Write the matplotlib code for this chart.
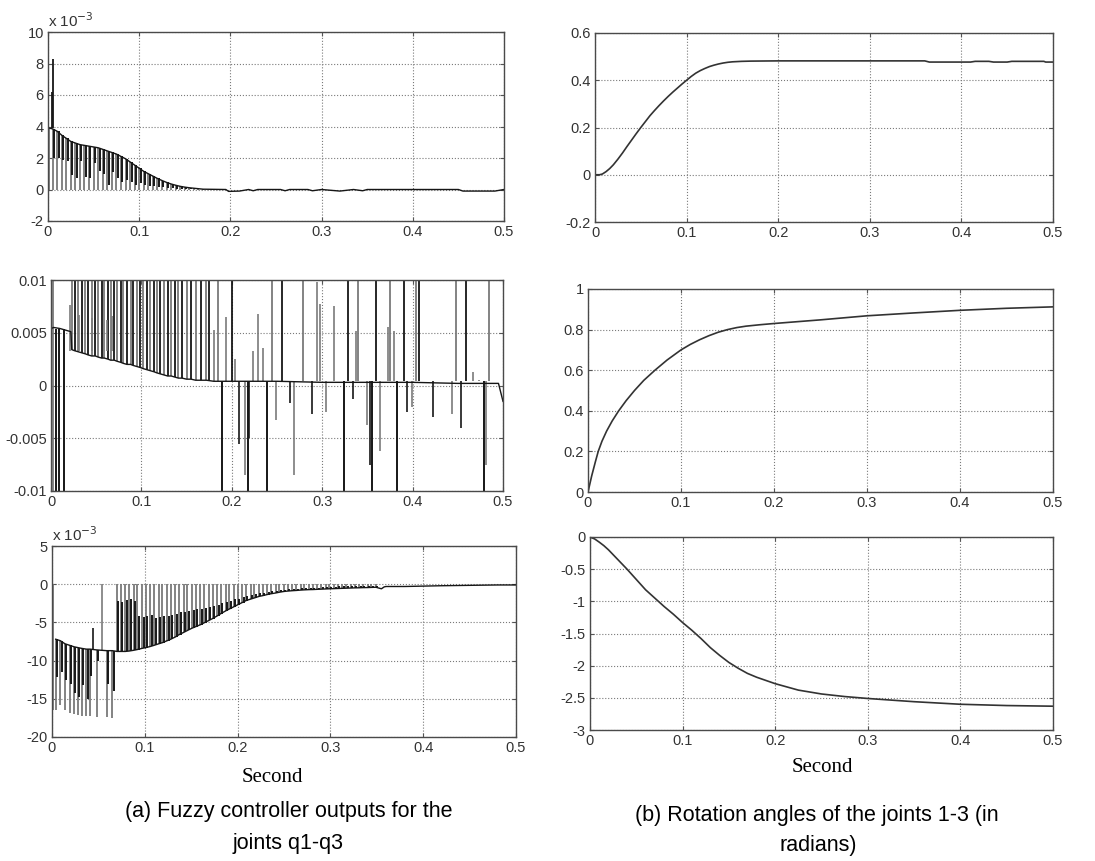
import numpy as np
import matplotlib
matplotlib.use('Agg')
import matplotlib.pyplot as plt
from matplotlib.ticker import FuncFormatter

plt.rcParams['font.family'] = ['Liberation Sans', 'DejaVu Sans']

# ---- (a) top : fuzzy output q1, units of 1e-3 ----
a1_t = [0.001, 0.005, 0.010, 0.015, 0.020, 0.025, 0.030, 0.035, 0.040, 0.045, 0.050, 0.055,
        0.060, 0.065, 0.070, 0.075, 0.080, 0.085, 0.090, 0.095, 0.100, 0.105, 0.110, 0.115,
        0.120, 0.125, 0.130, 0.135, 0.140, 0.145, 0.150, 0.155, 0.160, 0.165, 0.170]
a1_env = [3.9, 3.85, 3.7, 3.45, 3.25, 3.05, 2.95, 2.85, 2.8, 2.75, 2.7, 2.65,
          2.55, 2.45, 2.35, 2.25, 2.1, 1.95, 1.75, 1.55, 1.35, 1.15, 1.0, 0.85,
          0.7, 0.57, 0.45, 0.35, 0.27, 0.2, 0.15, 0.11, 0.08, 0.05, 0.02]
a1_dark = [3.9, 2.0, 2.0, 1.9, 1.8, 0.9, 0.75, 1.8, 0.8, 0.75, 1.7, 1.2,
           1.0, 0.3, 1.1, 0.7, 0.5, 0.6, 0.5, 0.3, 0.4, 0.3, 0.25, 0.2,
           0.15, 0.15, 0.1, 0.1, 0.05, 0.05, 0.03, 0.02, 0.02, 0.01, 0.02]
a1_peak_t = [0.004, 0.005]
a1_peak_v = [6.2, 8.3]
a1_late_t = [0.170, 0.195, 0.198, 0.21, 0.22, 0.225, 0.23, 0.255, 0.26, 0.265, 0.285, 0.29,
             0.3, 0.31, 0.32, 0.335, 0.345, 0.35, 0.36, 0.45, 0.455, 0.49, 0.5]
a1_late_v = [0.02, 0.0, -0.12, -0.1, 0.0, -0.08, 0.0, 0.0, -0.08, 0.0, 0.0, -0.08,
             0.0, -0.05, -0.1, 0.0, -0.08, 0.0, 0.0, 0.0, -0.1, -0.1, 0.0]

# ---- (a) middle : fuzzy output q2 ----
a2_start_t = [0.0, 0.003, 0.010, 0.018, 0.022]
a2_start_v = [0.0054, 0.0055, 0.0054, 0.0052, 0.0051]
a2_first_dn = [0.005, 0.009, 0.014]
a2_up_t = [0.023, 0.026, 0.030, 0.034, 0.038, 0.041, 0.045, 0.049, 0.052, 0.056, 0.059, 0.063,
           0.066, 0.070, 0.073, 0.077, 0.080, 0.084, 0.088, 0.091, 0.095, 0.099, 0.102, 0.106,
           0.110, 0.114, 0.117, 0.121, 0.125, 0.129, 0.133, 0.137, 0.141, 0.145, 0.150, 0.155,
           0.160, 0.166, 0.172]
a2_up_base = [0.0034, 0.0033, 0.0032, 0.0031, 0.0030, 0.0029, 0.0028, 0.0028, 0.0027, 0.0026,
              0.0026, 0.0025, 0.0024, 0.0024, 0.0023, 0.0022, 0.0021, 0.0020, 0.0020, 0.0019,
              0.0018, 0.0017, 0.0016, 0.0015, 0.0014, 0.0013, 0.0012, 0.0011, 0.0010, 0.0009,
              0.0009, 0.0008, 0.0007, 0.0007, 0.0006, 0.0006, 0.0005, 0.0005, 0.0005]
a2_early_part_t = [0.021, 0.031, 0.045, 0.062, 0.067]
a2_early_part_top = [0.0076, 0.0067, 0.0064, 0.0062, 0.0066]
a2_late_t = [0.18, 0.25, 0.3, 0.35, 0.4, 0.45, 0.495, 0.5]
a2_late_v = [0.0004, 0.0004, 0.0003, 0.0003, 0.0003, 0.0002, 0.0002, -0.0015]
a2_late_base = 0.0004
a2_full_up = [0.175, 0.185, 0.200, 0.244, 0.255, 0.279, 0.329, 0.340, 0.359, 0.375, 0.390,
              0.404, 0.407, 0.448, 0.459, 0.485]
a2_full_dn = [0.189, 0.218, 0.239, 0.324, 0.355, 0.383, 0.479]
a2_part_up_t = [0.180, 0.194, 0.204, 0.224, 0.229, 0.235, 0.294, 0.298, 0.313, 0.337, 0.373,
                0.379, 0.467, 0.474]
a2_part_up_v = [0.0053, 0.0065, 0.0025, 0.0033, 0.0068, 0.0036, 0.0098, 0.0077, 0.0075, 0.0052,
                0.0055, 0.0052, 0.0013, 0.0005]
a2_part_dn_t = [0.208, 0.215, 0.219, 0.249, 0.264, 0.269, 0.289, 0.304, 0.334, 0.350, 0.353,
                0.364, 0.394, 0.399, 0.423, 0.444, 0.454, 0.481]
a2_part_dn_v = [-0.0055, -0.0085, -0.005, -0.0033, -0.0017, -0.0085, -0.0027, -0.0025, -0.0013,
                -0.0037, -0.0075, -0.0062, -0.0025, -0.002, -0.003, -0.0027, -0.004, -0.0075]

# ---- (a) bottom : fuzzy output q3, units of 1e-3 ----
a3_dn_t = [0.004, 0.009, 0.014, 0.019, 0.024, 0.028, 0.032, 0.037, 0.041, 0.048, 0.059, 0.065]
a3_dn_top = [-7.2, -7.4, -7.8, -8.0, -8.2, -8.3, -8.4, -8.5, -8.5, -8.6, -8.7, -8.7]
a3_dn_gray = [-16.5, -15.8, -16.5, -16.8, -17.0, -17.1, -17.2, -17.3, -17.3, -17.4, -17.4, -17.5]
a3_dn_dark = [-12.2, -11.5, -12.5, -13.0, -14.3, -14.8, -13.2, -15.0, -12.0, -10.0, -13.0, -14.0]
a3_blip_t = [0.044, 0.054]
a3_blip_base = [-8.5, -8.6]
a3_blip_top = [-5.7, 0.0]
a3_up_t = [0.070, 0.074, 0.079, 0.083, 0.088, 0.092, 0.097, 0.101, 0.106, 0.110, 0.115, 0.119,
           0.124, 0.128, 0.133, 0.137, 0.142, 0.146, 0.151, 0.155, 0.160, 0.164, 0.169, 0.173,
           0.178, 0.182, 0.187, 0.191, 0.196, 0.200, 0.205, 0.209, 0.214, 0.218, 0.223, 0.227,
           0.232, 0.236, 0.241, 0.245, 0.250, 0.254, 0.259, 0.263, 0.268, 0.272, 0.277, 0.281,
           0.286, 0.290, 0.295, 0.299, 0.304, 0.308, 0.313, 0.317, 0.322, 0.326, 0.331, 0.335,
           0.340, 0.344, 0.349]
a3_up_base = [-8.8, -8.8, -8.8, -8.75, -8.65, -8.55, -8.4, -8.3, -8.15, -8.0, -7.8, -7.65,
              -7.4, -7.2, -6.9, -6.6, -6.3, -6.05, -5.75, -5.55, -5.3, -5.05, -4.75, -4.5,
              -4.15, -3.85, -3.5, -3.25, -2.95, -2.7, -2.4, -2.15, -1.95, -1.8, -1.6, -1.5,
              -1.35, -1.25, -1.15, -1.05, -0.95, -0.9, -0.85, -0.82, -0.77, -0.74, -0.71, -0.7,
              -0.67, -0.65, -0.62, -0.6, -0.58, -0.56, -0.54, -0.52, -0.5, -0.48, -0.47, -0.45,
              -0.44, -0.42, -0.4]
a3_up_dark = [-2.2, -2.3, -2.1, -2.0, -2.2,
              -4.1, -4.3, -4.2, -4.0, -4.4, -4.3, -4.1, -4.2, -4.0,
              -3.9, -3.7, -3.6, -3.5, -3.4, -3.3, -3.2, -3.1, -3.0, -2.8,
              -2.7, -2.5, -2.3, -2.2, -2.0, -1.9, -1.7, -1.5, -1.4, -1.3,
              -1.2, -1.1, -1.0, -0.9, -0.85, -0.8, -0.7, -0.65, -0.6, -0.6,
              -0.55, -0.5, -0.5, -0.45, -0.45, -0.4, -0.4, -0.35, -0.35, -0.3,
              -0.3, -0.3, -0.25, -0.25, -0.25, -0.2, -0.2, -0.2, -0.2]
a3_late_t = [0.349, 0.355, 0.358, 0.36, 0.38, 0.40, 0.42, 0.45, 0.48, 0.5]
a3_late_v = [-0.4, -0.6, -0.35, -0.3, -0.3, -0.25, -0.2, -0.15, -0.1, -0.1]

# ---- (b) rotation angles ----
b1_t = [0.0, 0.005, 0.008, 0.012, 0.016, 0.02, 0.025, 0.03, 0.035, 0.04, 0.045, 0.05, 0.055,
        0.06, 0.065, 0.07, 0.075, 0.08, 0.085, 0.09, 0.095, 0.1, 0.105, 0.11, 0.115, 0.12,
        0.125, 0.13, 0.135, 0.14, 0.145, 0.15, 0.16, 0.17, 0.2, 0.36, 0.365, 0.41, 0.415,
        0.43, 0.435, 0.45, 0.455, 0.49, 0.492, 0.5]
b1_v = [0.0, 0.0, 0.003, 0.013, 0.026, 0.042, 0.066, 0.092, 0.12, 0.147, 0.174, 0.2, 0.225,
        0.25, 0.272, 0.293, 0.313, 0.332, 0.35, 0.367, 0.384, 0.40, 0.416, 0.43, 0.441, 0.45,
        0.458, 0.464, 0.469, 0.473, 0.476, 0.478, 0.48, 0.481, 0.482, 0.482, 0.477, 0.477, 0.48,
        0.48, 0.477, 0.477, 0.48, 0.48, 0.477, 0.477]
b2_t = [0.0, 0.002, 0.004, 0.006, 0.008, 0.011, 0.015, 0.02, 0.026, 0.033, 0.041, 0.05, 0.06,
        0.072, 0.085, 0.1, 0.11, 0.12, 0.13, 0.14, 0.15, 0.16, 0.17, 0.185, 0.2,
        0.25, 0.3, 0.35, 0.4, 0.45, 0.5]
b2_v = [0.0, 0.04, 0.08, 0.115, 0.15, 0.2, 0.25, 0.3, 0.35, 0.4, 0.45, 0.5, 0.55,
        0.6, 0.65, 0.7, 0.727, 0.75, 0.77, 0.787, 0.8, 0.81, 0.817, 0.824, 0.83,
        0.848, 0.868, 0.882, 0.895, 0.905, 0.912]
b3_t = [0.0, 0.005, 0.01, 0.015, 0.02, 0.03, 0.04, 0.05, 0.06, 0.07, 0.08, 0.09, 0.1, 0.11,
        0.12, 0.13, 0.14, 0.15, 0.16, 0.17, 0.18, 0.19, 0.2, 0.21, 0.225, 0.25, 0.275, 0.3,
        0.35, 0.4, 0.45, 0.5]
b3_v = [0.0, -0.03, -0.08, -0.135, -0.2, -0.35, -0.5, -0.66, -0.82, -0.95, -1.08, -1.2, -1.33,
        -1.45, -1.58, -1.72, -1.84, -1.95, -2.04, -2.12, -2.18, -2.23, -2.28, -2.32, -2.38,
        -2.44, -2.48, -2.51, -2.56, -2.6, -2.62, -2.63]

GRAY = '#7a7a7a'
DARK = '#161616'
CURVE = '#333333'
W, H = 1095, 861

fig = plt.figure(figsize=(W / 100, H / 100), dpi=100)


def make_ax(l, r, t, b):
    return fig.add_axes([l / W, (H - b) / H, (r - l) / W, (b - t) / H])


def style(ax, ylim, yticks):
    ax.set_xlim(0, 0.5)
    ax.set_ylim(*ylim)
    ax.set_xticks([0, 0.1, 0.2, 0.3, 0.4, 0.5])
    ax.set_yticks(yticks)
    fmt = FuncFormatter(lambda v, p: '%g' % round(v, 6))
    ax.xaxis.set_major_formatter(fmt)
    ax.yaxis.set_major_formatter(fmt)
    ax.grid(True, ls=':', color='#7a7a7a', lw=0.8)
    ax.set_axisbelow(True)
    ax.tick_params(direction='in', top=True, right=True, length=3, width=0.8,
                   labelsize=10.5, labelcolor='#333333', color='#555555', pad=3)
    for s in ax.spines.values():
        s.set_color('#4a4a4a')
        s.set_linewidth(1.0)


# (a) top
ax = make_ax(48, 504, 32, 221)
style(ax, (-2, 10), [-2, 0, 2, 4, 6, 8, 10])
t1 = np.array(a1_t)
ax.vlines(t1, 0, a1_env, color=GRAY, lw=1.3)
ax.vlines(t1 + 0.0016, a1_dark, a1_env, color=DARK, lw=1.4)
ax.vlines(a1_peak_t, 3.9, a1_peak_v, color=DARK, lw=1.3)
ax.plot(a1_t + a1_late_t, a1_env + a1_late_v, color=DARK, lw=1.0)
ax.text(0, 1.01, r'x 10$^{-3}$', transform=ax.transAxes, fontsize=11, color='#333333',
        ha='left', va='bottom')

# (a) middle
ax = make_ax(51, 503, 280, 491)
style(ax, (-0.01, 0.01), [-0.01, -0.005, 0, 0.005, 0.01])
ax.vlines([0.002], -0.011, 0.011, color=GRAY, lw=1.3)
ax.vlines(a2_first_dn, -0.011, 0.0054, color=DARK, lw=1.4)
up_cols = [DARK if i % 2 else GRAY for i in range(len(a2_up_t))]
ax.vlines(a2_up_t, a2_up_base, 0.011, colors=up_cols, lw=1.3)
ax.vlines(a2_early_part_t, 0.0033, a2_early_part_top, color=GRAY, lw=1.2)
ax.vlines(a2_full_up, a2_late_base, 0.011, colors=[DARK, GRAY] * 8, lw=1.3)
ax.vlines(a2_full_dn, -0.011, a2_late_base, color=DARK, lw=1.4)
ax.vlines(a2_part_up_t, a2_late_base, a2_part_up_v, color=GRAY, lw=1.2)
ax.vlines(a2_part_dn_t, a2_part_dn_v, a2_late_base, colors=[DARK, GRAY] * 9, lw=1.2)
ax.plot(a2_start_t + a2_up_t + a2_late_t, a2_start_v + a2_up_base + a2_late_v, color=DARK, lw=1.0)

# (a) bottom
ax = make_ax(52, 516, 546, 737)
style(ax, (-20, 5), [-20, -15, -10, -5, 0, 5])
ax.vlines([0.001], a3_dn_gray[0], 0, color=GRAY, lw=1.3)
ax.vlines(a3_dn_t, a3_dn_gray, a3_dn_top, color=GRAY, lw=1.3)
ax.vlines(np.array(a3_dn_t) + 0.0013, a3_dn_dark, a3_dn_top, color=DARK, lw=1.4)
ax.vlines(a3_blip_t, a3_blip_base, a3_blip_top, colors=[DARK, GRAY], lw=1.2)
ax.vlines(a3_up_t, a3_up_base, 0, color=GRAY, lw=1.3)
ax.vlines(np.array(a3_up_t) + 0.0016, a3_up_base, a3_up_dark, color=DARK, lw=1.4)
ax.plot(a3_dn_t + a3_up_t + a3_late_t, a3_dn_top + a3_up_base + a3_late_v, color=DARK, lw=1.0)
ax.text(0, 1.01, r'x 10$^{-3}$', transform=ax.transAxes, fontsize=11, color='#333333',
        ha='left', va='bottom')

# (b) top
ax = make_ax(595, 1053, 33, 222)
style(ax, (-0.2, 0.6), [-0.2, 0, 0.2, 0.4, 0.6])
ax.plot(b1_t, b1_v, color=CURVE, lw=1.2)

# (b) middle
ax = make_ax(588, 1053, 289, 492)
style(ax, (0, 1), [0, 0.2, 0.4, 0.6, 0.8, 1])
ax.plot(b2_t, b2_v, color=CURVE, lw=1.2)

# (b) bottom
ax = make_ax(590, 1053, 537, 730)
style(ax, (-3, 0), [-3, -2.5, -2, -1.5, -1, -0.5, 0])
ax.plot(b3_t, b3_v, color=CURVE, lw=1.2)

# axis names and captions
fig.text(272 / W, 1 - 778 / H, 'Second', family='Liberation Serif', fontsize=15,
         ha='center', va='center')
fig.text(822 / W, 1 - 768 / H, 'Second', family='Liberation Serif', fontsize=15,
         ha='center', va='center')
fig.text(289 / W, 1 - 812 / H, '(a) Fuzzy controller outputs for the', fontsize=15.5,
         ha='center', va='center')
fig.text(288 / W, 1 - 843 / H, 'joints q1-q3', fontsize=15.5, ha='center', va='center')
fig.text(817 / W, 1 - 815 / H, '(b) Rotation angles of the joints 1-3 (in', fontsize=15.5,
         ha='center', va='center')
fig.text(818 / W, 1 - 845 / H, 'radians)', fontsize=15.5, ha='center', va='center')

fig.savefig('out.png', dpi=100, facecolor='white')
